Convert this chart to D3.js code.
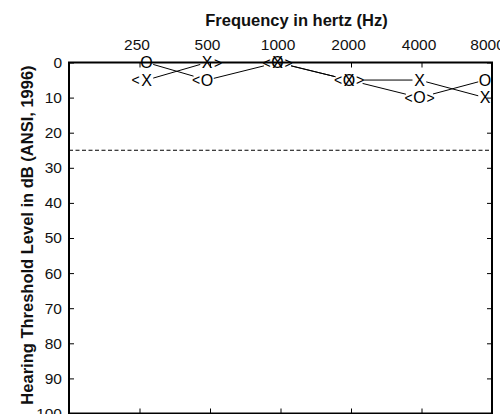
<!DOCTYPE html>
<html><head><meta charset="utf-8">
<script src="https://cdn.jsdelivr.net/npm/d3@7"></script>
<style>
html,body{margin:0;padding:0;background:#fff;}
svg{display:block;font-family:"Liberation Sans",Arial,sans-serif;}
</style></head>
<body><svg id="c" width="500" height="414"></svg>
<script>
// ---- data ----
const frequencies = [250, 500, 1000, 2000, 4000, 8000];
const freqLabels = ["250", "500", "1000", "2000", "4000", "8000"];
const rightEarAir = [0, 5, 0, 5, 10, 5];     // "O"
const leftEarAir  = [5, 0, 0, 5, 5, 10];     // "X"
const rightBone   = [5, 5, 0, 5, 10, null];  // "<"
const leftBone    = [null, 0, 0, 5, 10, null]; // ">"
const dbTicks = [0, 10, 20, 30, 40, 50, 60, 70, 80, 90, 100];
const normalLimit = 25;

(function(){
// ---- layout ----
const svg = d3.select("#c");
const L = 69, R = 492, T = 62.5, B = 413.5;
const x = d3.scaleLog().base(2).domain([125, 8000]).range([L, R]);
const y = d3.scaleLinear().domain([0, 100]).range([T, B]);
const symNudge = [7, -3, -3, -2, -2, -7]; // horizontal placement of symbols

const g = svg.append("g");

// dashed normal-hearing line
g.append("line")
  .attr("x1", L).attr("x2", R)
  .attr("y1", y(normalLimit)).attr("y2", y(normalLimit))
  .attr("stroke", "#000").attr("stroke-width", 1)
  .attr("stroke-dasharray", "4,2.5");

// axes
const fs = "15.5px";
const axTop = g.append("g").attr("transform", `translate(0,${T})`)
  .call(d3.axisTop(x).tickValues(frequencies).tickFormat((d,i)=>freqLabels[i]).tickSizeInner(-5).tickSizeOuter(0).tickPadding(12.5));
axTop.selectAll("text").attr("dx", (d,i)=> i === 5 ? -5 : -3).attr("font-size", fs).attr("font-family", "Liberation Sans, Arial, sans-serif");
const axBottom = g.append("g").attr("transform", `translate(0,${B})`)
  .call(d3.axisBottom(x).tickValues(frequencies).tickFormat("").tickSizeInner(-5).tickSizeOuter(0));
const axLeft = g.append("g").attr("transform", `translate(${L},0)`)
  .call(d3.axisLeft(y).tickValues(dbTicks).tickSizeInner(-5).tickSizeOuter(0).tickPadding(7));
axLeft.selectAll("text").attr("font-size", fs).attr("font-family", "Liberation Sans, Arial, sans-serif");
const axRight = g.append("g").attr("transform", `translate(${R},0)`)
  .call(d3.axisRight(y).tickValues(dbTicks).tickFormat("").tickSizeInner(-5).tickSizeOuter(0));
[axTop, axBottom, axLeft, axRight].forEach(a => {
  a.select(".domain").remove();
  a.selectAll(".tick line").attr("stroke", "#000").attr("stroke-width", 1);
  a.selectAll("text").attr("fill", "#111");
});

// box
g.append("rect").attr("x", L).attr("y", T).attr("width", R - L).attr("height", B - T)
  .attr("fill", "none").attr("stroke", "#000").attr("stroke-width", 2);

// titles
svg.append("text").attr("x", 296.5).attr("y", 25.5).attr("text-anchor", "middle")
  .attr("font-size", "16.5px").attr("font-weight", "bold").attr("fill", "#111")
  .text("Frequency in hertz (Hz)");
svg.append("text").attr("transform", "translate(33,235) rotate(-90)").attr("text-anchor", "middle")
  .attr("font-size", "16.5px").attr("font-weight", "bold").attr("fill", "#111")
  .text("Hearing Threshold Level in dB (ANSI, 1996)");

// connecting lines with gaps around symbols
function px(i){ return x(frequencies[i]) + symNudge[i]; }
function drawSeries(vals) {
  for (let i = 0; i < vals.length - 1; i++) {
    const x0 = px(i), y0 = y(vals[i]), x1 = px(i+1), y1 = y(vals[i+1]);
    const dx = x1 - x0, dy = y1 - y0, len = Math.hypot(dx, dy);
    const ux = dx/len, uy = dy/len;
    const g0 = 7 + (leftBone[i] === vals[i] ? 7 : 0);
    const g1 = 7 + (rightBone[i+1] === vals[i+1] ? 7 : 0);
    g.append("line")
      .attr("x1", x0 + ux*g0).attr("y1", y0 + uy*g0)
      .attr("x2", x1 - ux*g1).attr("y2", y1 - uy*g1)
      .attr("stroke", "#000").attr("stroke-width", 1);
  }
}
drawSeries(rightEarAir);
drawSeries(leftEarAir);

// symbols
function sym(arr, ch, dxs, size) {
  g.selectAll(null).data(arr.map((v,i)=>({v,i})).filter(d=>d.v !== null)).enter()
    .append("text")
    .attr("x", d => px(d.i) + dxs)
    .attr("y", d => y(d.v))
    .attr("dy", "0.36em")
    .attr("text-anchor", "middle")
    .attr("font-size", size)
    .attr("fill", "#000")
    .text(ch);
}
sym(rightEarAir, "O", 0, "16px");
sym(leftEarAir, "X", 0, "16px");
sym(rightBone, "<", -11, "14px");
sym(leftBone, ">", 11, "14px");
})();
</script></body></html>
